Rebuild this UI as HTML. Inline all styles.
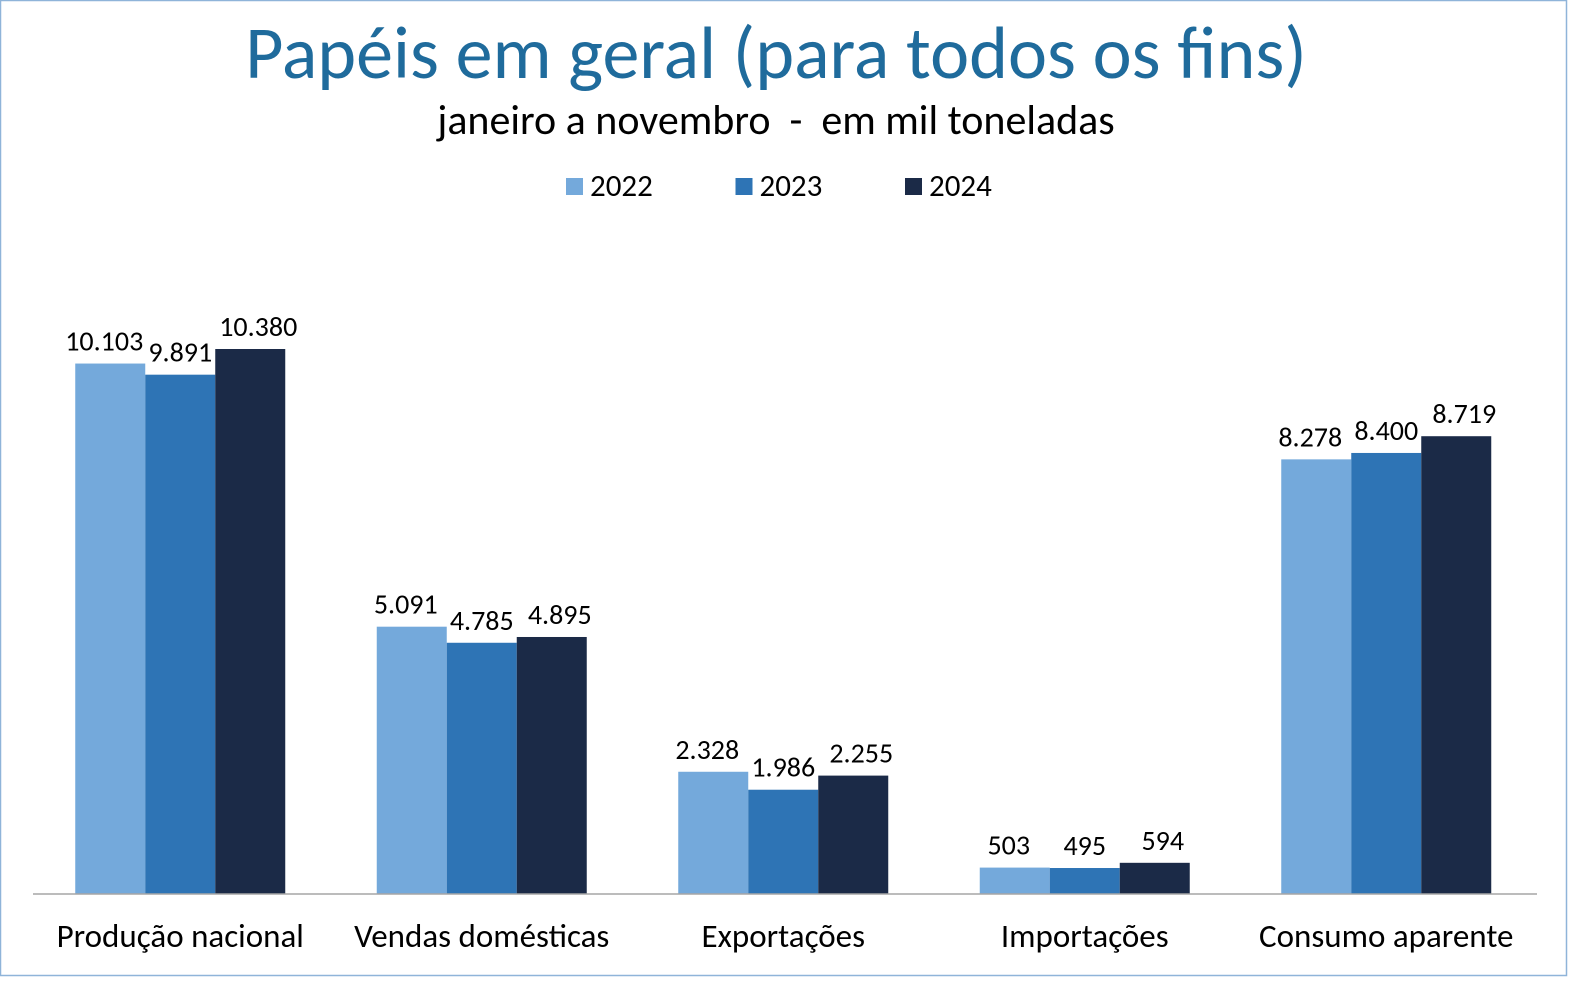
<!DOCTYPE html>
<html><head><meta charset="utf-8">
<style>
html,body{margin:0;padding:0;background:#fff;}
body{width:1583px;height:986px;overflow:hidden;font-family:"Carlito","Liberation Sans",sans-serif;}
svg text{font-family:"Carlito","Liberation Sans",sans-serif;}
</style></head>
<body>
<svg id="chart" width="1583" height="986" xmlns="http://www.w3.org/2000/svg">
<rect x="0.5" y="0.5" width="1566" height="975" fill="#fff" stroke="#8fb4d9" stroke-width="1.5"/>
<text x="776" y="78" text-anchor="middle" font-size="74" fill="#1f6b9c">Papéis em geral (para todos os fins)</text>
<text x="776" y="134" text-anchor="middle" font-size="42" fill="#000" xml:space="preserve">janeiro a novembro  -  em mil toneladas</text>
<g id="legend"></g>
<g id="bars"></g>
<line x1="33" y1="894" x2="1537" y2="894" stroke="#a6a6a6" stroke-width="1.5"/>
<g id="cats"></g>
</svg>
<script>
const categories=["Produção nacional","Vendas domésticas","Exportações","Importações","Consumo aparente"];
const series=["2022","2023","2024"];
const v2022=[10103,5091,2328,503,8278];
const v2023=[9891,4785,1986,495,8400];
const v2024=[10380,4895,2255,594,8719];
const labels2022=["10.103","5.091","2.328","503","8.278"];
const labels2023=["9.891","4.785","1.986","495","8.400"];
const labels2024=["10.380","4.895","2.255","594","8.719"];
const colors=["#74a9db","#2e74b5","#1b2a47"];
const NS="http://www.w3.org/2000/svg";
const base=894,scale=545/10380,left=29.5,catW=301.5,barW=70;
const y=v=>base-v*scale;
const vals=[v2022,v2023,v2024],labs=[labels2022,labels2023,labels2024];
const shift=[-6,0,8];
const bars=document.getElementById('bars');
categories.forEach((c,i)=>{
  const cx=left+catW*(i+0.5);
  vals.forEach((s,k)=>{
    const x=cx-1.5*barW+k*barW;
    const r=document.createElementNS(NS,'rect');
    
    
    r.setAttribute('x',x);r.setAttribute('y',y(s[i]));
    r.setAttribute('width',barW);r.setAttribute('height',s[i]*scale);
    r.setAttribute('fill',colors[k]);bars.appendChild(r);
    const t=document.createElementNS(NS,'text');
    
    
    t.setAttribute('x',x+barW/2+shift[k]);t.setAttribute('y',y(s[i])-13);
    t.setAttribute('text-anchor','middle');t.setAttribute('font-size','28');
    t.textContent=labs[k][i];bars.appendChild(t);
  });
  const ct=document.createElementNS(NS,'text');
  
  
  ct.setAttribute('x',cx);ct.setAttribute('y',947);
  ct.setAttribute('text-anchor','middle');ct.setAttribute('font-size','33');
  ct.textContent=c;document.getElementById('cats').appendChild(ct);
});
const lg=document.getElementById('legend');
series.forEach((s,k)=>{
  const x=566+k*169.5;
  const r=document.createElementNS(NS,'rect');
  
  
  r.setAttribute('x',x);r.setAttribute('y',178);r.setAttribute('width',17);r.setAttribute('height',17);
  r.setAttribute('fill',colors[k]);lg.appendChild(r);
  const t=document.createElementNS(NS,'text');
  
  
  t.setAttribute('x',x+24);t.setAttribute('y',196);t.setAttribute('font-size','31');
  t.textContent=s;lg.appendChild(t);
});
</script>
</body></html>
